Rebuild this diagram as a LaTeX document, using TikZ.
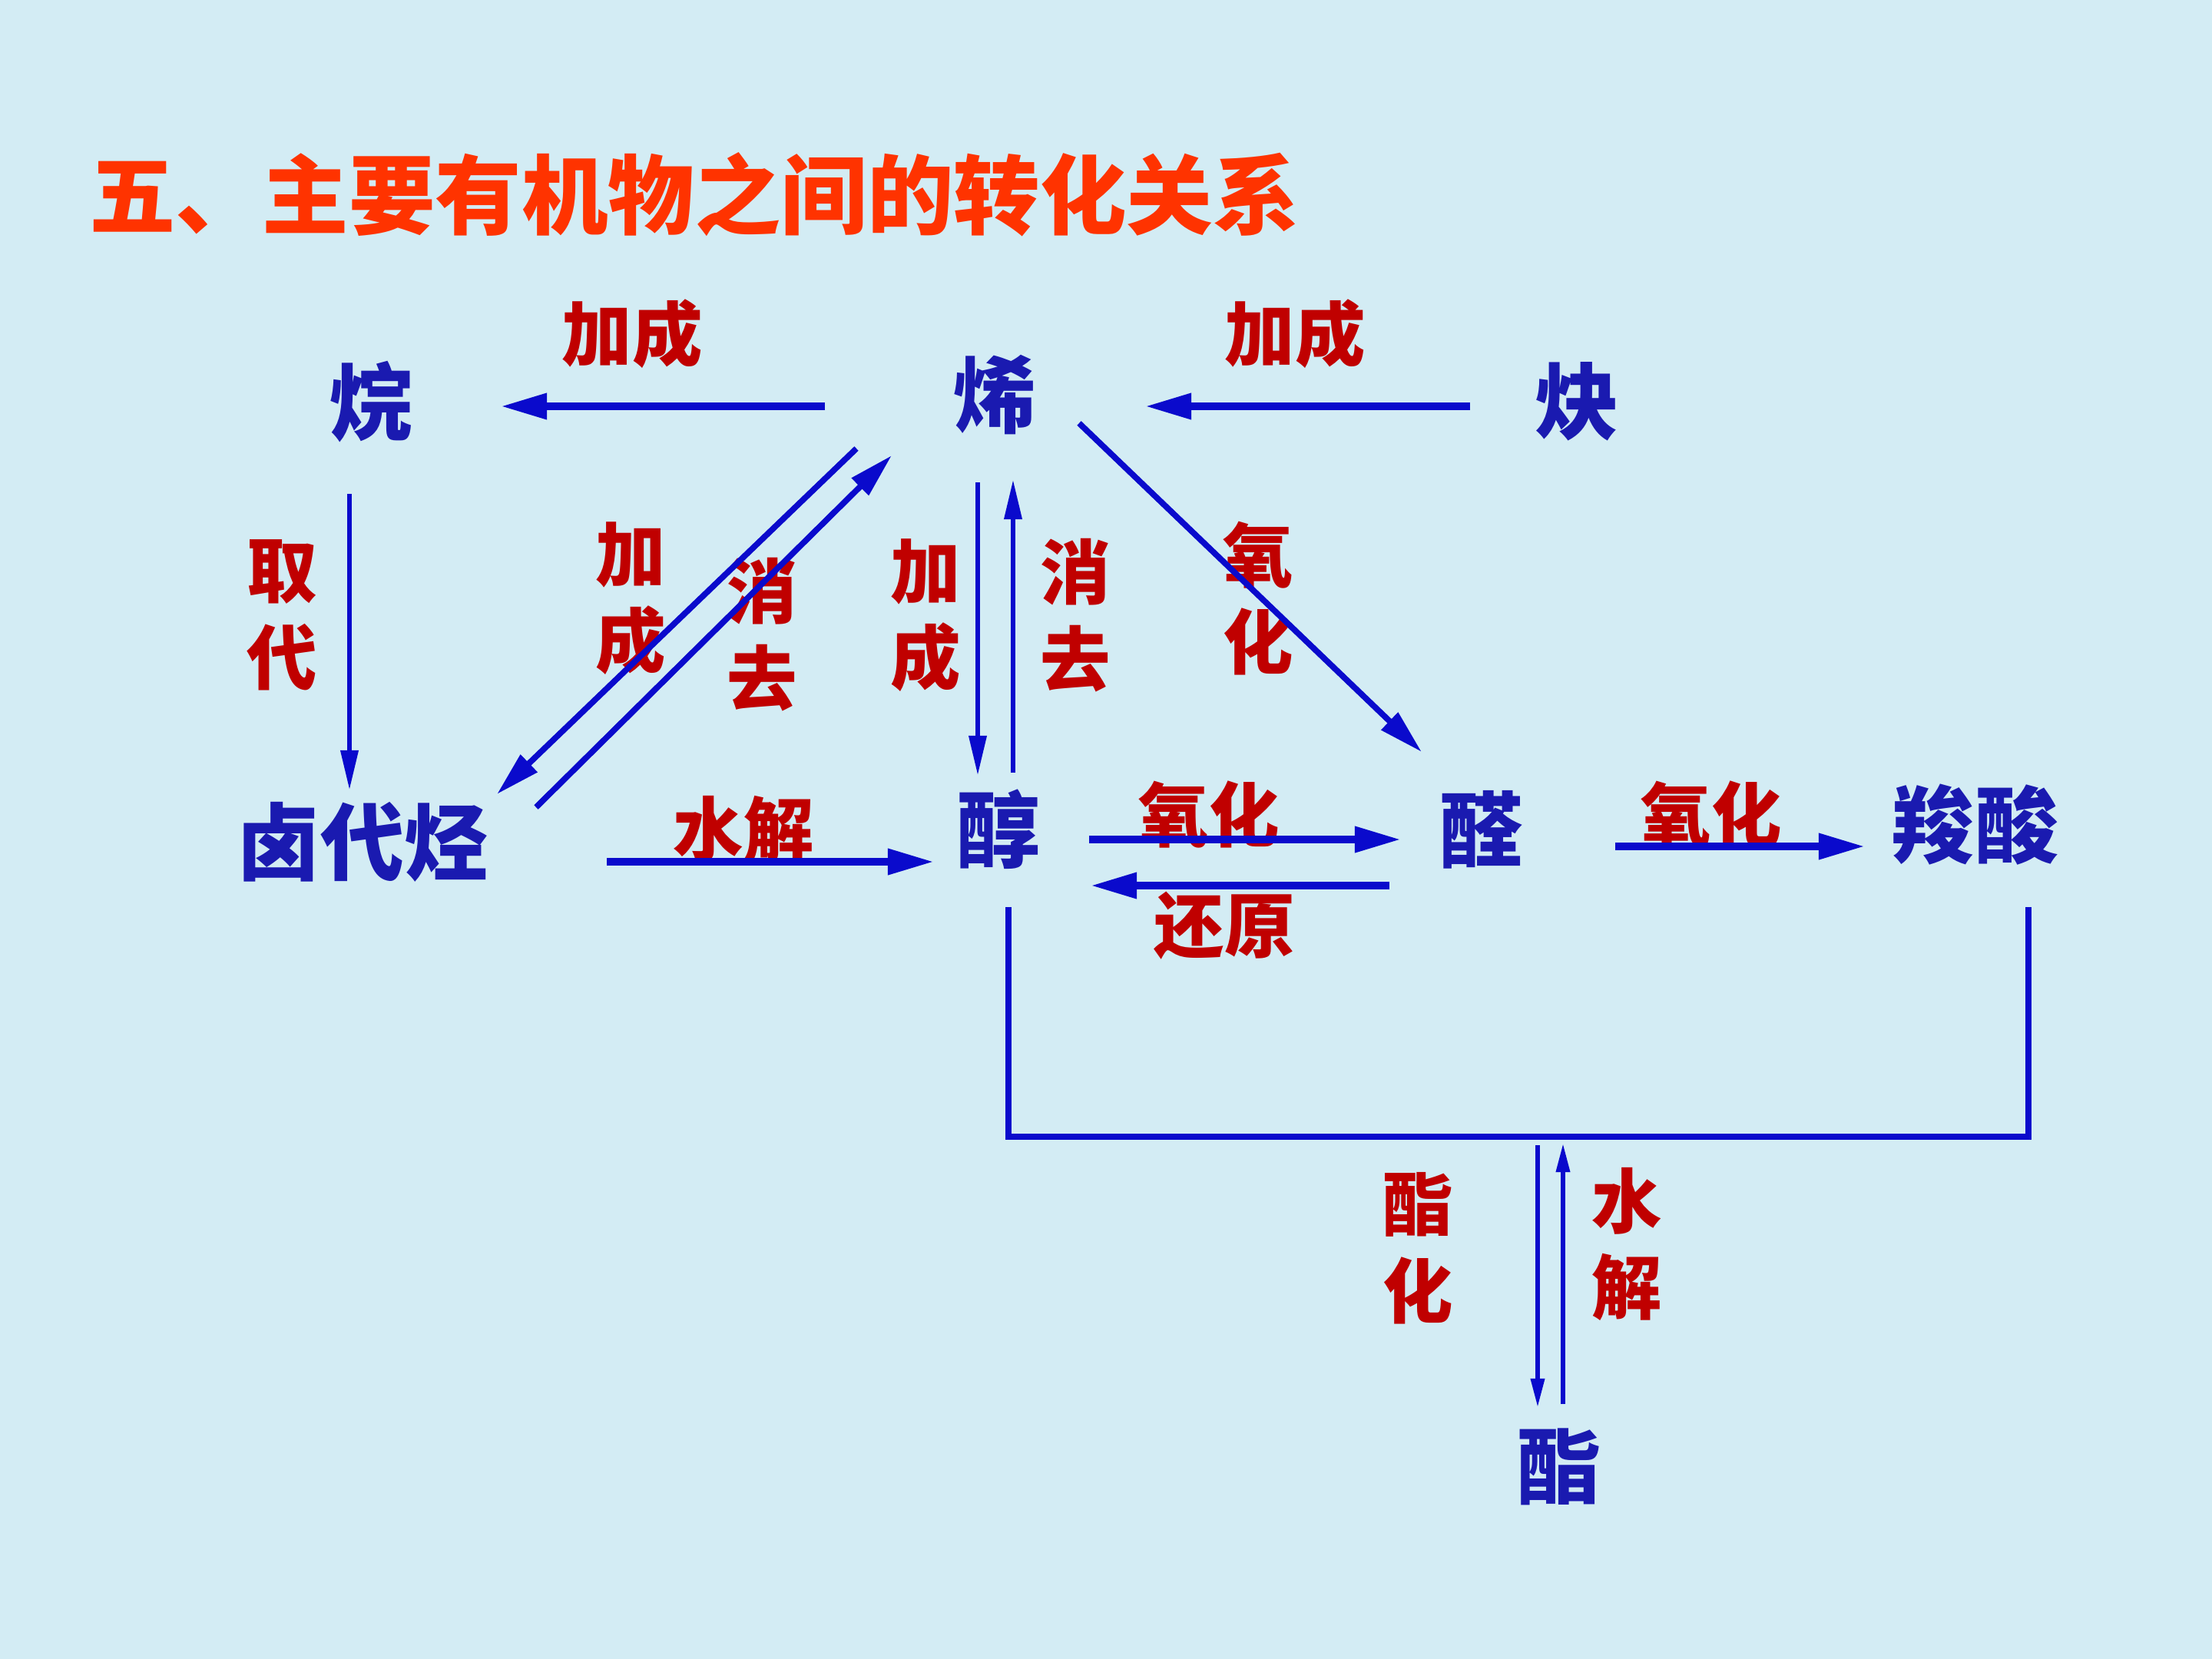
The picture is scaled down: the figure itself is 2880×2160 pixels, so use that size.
\documentclass[tikz,border=0pt]{standalone}
\usepackage{fontspec}
\newfontfamily\cjk{Noto Sans CJK SC}
\usetikzlibrary{arrows.meta, calc}
\definecolor{bgblue}{HTML}{D3ECF4}
\definecolor{arblue}{HTML}{0A0ACC}
\definecolor{molblue}{HTML}{1A1AB0}
\definecolor{labred}{HTML}{C00000}
\definecolor{titlered}{HTML}{FF3300}

\begin{document}
\begin{tikzpicture}[x=0.01cm, y=-0.01cm,
        mol/.style={text=molblue, font=\cjk\bfseries\fontsize{31}{31}\selectfont, inner sep=0pt},
        lab/.style={text=labred, font=\cjk\bfseries\fontsize{26}{32}\selectfont, inner sep=0pt, align=center},
        ar/.style={-{Triangle[length=0.6cm, width=0.32cm]}, line width=2.8pt, color=arblue},
        ard/.style={-{Triangle[length=0.58cm, width=0.3cm]}, line width=2.2pt, color=arblue},
        arv/.style={-{Triangle[length=0.52cm, width=0.22cm]}, line width=1.9pt, color=arblue},
        ars/.style={-{Triangle[length=0.38cm, width=0.17cm]}, line width=1.8pt, color=arblue}]
      \fill[bgblue] (0,0) rectangle (2880,2160);
      \useasboundingbox (0,0) rectangle (2880,2160);
      \node[anchor=west, text=titlered, font=\cjk\bfseries\fontsize{32}{32}\selectfont] (title) at (104,253) {五、主要有机物之间的转化关系};
      % molecules
      \node[mol] (an) at (483,523) {烷};
      \node[mol] (xi) at (1295,514) {烯};
      \node[mol] (que) at (2053,523) {炔};
      \node[mol] (lu) at (472,1096) {卤代烃};
      \node[mol] (chun) at (1300,1080) {醇};
      \node[mol] (quan) at (1928,1080) {醛};
      \node[mol] (suo) at (2571,1074) {羧酸};
      \node[mol] (zhi) at (2030,1910) {酯};
      % reaction labels
      \node[lab] (l1) at (823,435) {加成};
      \node[lab] (l2) at (1686,435) {加成};
      \node[lab] (l3) at (367,801) {取\\代};
      \node[lab] (l4) at (821,779) {加\\成};
      \node[lab] (l5) at (992,826) {消\\去};
      \node[lab] (l6) at (1205,801) {加\\成};
      \node[lab] (l7) at (1400,801) {消\\去};
      \node[lab] (l8) at (1638,779) {氧\\化};
      \node[lab] (l9) at (968,1080) {水解};
      \node[lab] (l10) at (1574,1060) {氧化};
      \node[lab] (l11) at (1594,1205) {还原};
      \node[lab] (l12) at (2228,1060) {氧化};
      \node[lab] (l13) at (1846,1625) {酯\\化};
      \node[lab] (l14) at (2118,1620) {水\\解};
      % arrows
      \draw[ar] ($(xi)+(-221,15)$) -- ($(an)+(169,6)$);
      \draw[ar] ($(que)+(-139,6)$) -- ($(xi)+(196,15)$);
      \draw[arv] ($(an)+(-28,120)$) -- ($(lu)+(-17,-67)$);
      \draw[ard] ($(xi)+(-180,70)$) -- ($(lu)+(175,-62)$);
      \draw[ard] ($(lu)+(226,-45)$) -- ($(xi)+(-134,79)$);
      \draw[arv] ($(xi)+(-22,114)$) -- ($(chun)+(-27,-70)$);
      \draw[arv] ($(chun)+(19,-74)$) -- ($(xi)+(24,110)$);
      \draw[ard] ($(xi)+(110,37)$) -- ($(quan)+(-77,-101)$);
      \draw[ar] ($(lu)+(318,26)$) -- ($(chun)+(-84,42)$);
      \draw[ar] ($(chun)+(118,13)$) -- ($(quan)+(-104,13)$);
      \draw[ar] ($(quan)+(-119,73)$) -- ($(chun)+(120,73)$);
      \draw[ar] ($(quan)+(175,22)$) -- ($(suo)+(-143,28)$);
      % ester bracket
      \coordinate (hub) at ($(suo)+(70,406)$);
      \draw[line width=2.2pt, color=arblue, line cap=rect] ($(chun)+(13,105)$) |- (hub) -- ($(suo)+(70,111)$);
      \draw[ars] ($(zhi)+(-28,-419)$) -- ($(zhi)+(-28,-77)$);
      \draw[ars] ($(zhi)+(5,-82)$) -- ($(zhi)+(5,-422)$);
    \end{tikzpicture}
\end{document}
